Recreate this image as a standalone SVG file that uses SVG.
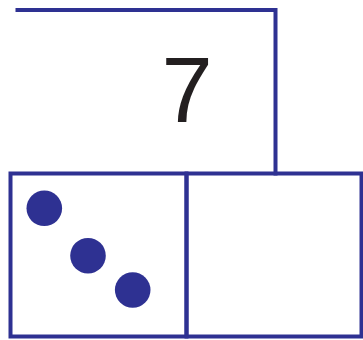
<svg xmlns="http://www.w3.org/2000/svg" width="363" height="340" viewBox="0 0 363 340">
<style>
.ln{fill:none;stroke:#2e3192;stroke-width:4;stroke-linecap:square}
.dot{fill:#2e3192}
.num{font-family:"Liberation Sans",Arial,sans-serif;font-size:92px;fill:#231f20;text-anchor:middle}
</style>
<rect width="363" height="340" fill="#fff"/>
<g id="top-box">
<path class="ln" d="M17.5,10 H275.5 V173.5"/>
<text class="num" x="187" y="122">7</text>
</g>
<g id="left-box">
<rect class="ln" x="10.5" y="173.5" width="176" height="163"/>
<circle class="dot" cx="44.3" cy="208.3" r="17.8"/>
<circle class="dot" cx="88" cy="255.7" r="17.8"/>
<circle class="dot" cx="132.7" cy="290" r="17.8"/>
</g>
<g id="right-box">
<rect class="ln" x="186.5" y="173.5" width="175" height="163"/>
</g>
<g id="connectors"></g>
</svg>
